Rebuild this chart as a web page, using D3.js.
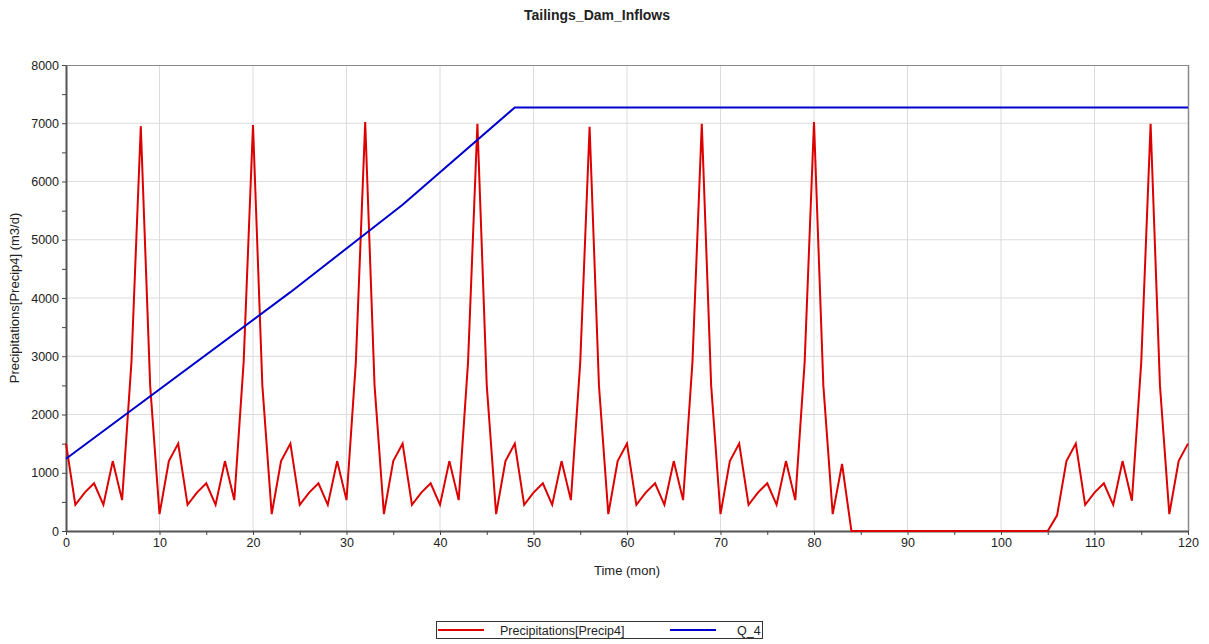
<!DOCTYPE html>
<html>
<head>
<meta charset="utf-8">
<script src="https://cdn.jsdelivr.net/npm/d3@7"></script>
<style>
  html, body { margin: 0; padding: 0; background: #fff; }
  svg { display: block; }
  text { font-family: "Liberation Sans", Arial, sans-serif; fill: #222; }
</style>
</head>
<body>
<svg id="chart" width="1209" height="644"></svg>
<script>
// ---- data ----
const months = d3.range(0, 121);
const precipValues = [
  1500, 450, 660, 820, 450, 1200, 530, 2900, 6950, 2500, 290, 1200,
  1500, 450, 660, 820, 450, 1200, 530, 2900, 6970, 2500, 290, 1200,
  1500, 450, 660, 820, 450, 1200, 530, 2900, 7020, 2500, 290, 1200,
  1500, 450, 660, 820, 450, 1200, 530, 2900, 6990, 2500, 290, 1200,
  1500, 450, 660, 820, 450, 1200, 530, 2900, 6940, 2500, 290, 1200,
  1500, 450, 660, 820, 450, 1200, 530, 2900, 6990, 2500, 290, 1200,
  1500, 450, 660, 820, 450, 1200, 530, 2900, 7020, 2500, 290, 1150,
  0, 0, 0, 0, 0, 0, 0, 0, 0, 0, 0, 0,
  0, 0, 0, 0, 0, 0, 0, 0, 0, 0, 270, 1200,
  1500, 450, 660, 820, 450, 1200, 520, 2900, 6990, 2500, 290, 1200,
  1500
];
const qTimes = [0, 24, 36, 48, 120];
const qValues = [1240, 4100, 5600, 7270, 7270];
const xTicks = [0, 10, 20, 30, 40, 50, 60, 70, 80, 90, 100, 110, 120];
const yTicks = [0, 1000, 2000, 3000, 4000, 5000, 6000, 7000, 8000];
const seriesNames = ["Precipitations[Precip4]", "Q_4"];
const seriesColors = ["#dd0000", "#0000cc"];
const titleText = "Tailings_Dam_Inflows";
const xTitle = "Time (mon)";
const yTitle = "Precipitations[Precip4] (m3/d)";

// ---- layout ----
const svg = d3.select("#chart");
const L = 66, R = 1188, T = 65, B = 531;
const x = d3.scaleLinear().domain([0, 120]).range([L, R]);
const y = d3.scaleLinear().domain([0, 8000]).range([B, T]);

// grid
svg.append("g").selectAll("line").data(xTicks.slice(1, -1)).enter().append("line")
  .attr("x1", d => x(d)).attr("x2", d => x(d)).attr("y1", T).attr("y2", B)
  .attr("stroke", "#dcdcdc").attr("stroke-width", 1);
svg.append("g").selectAll("line").data(yTicks.slice(1, -1)).enter().append("line")
  .attr("y1", d => y(d)).attr("y2", d => y(d)).attr("x1", L).attr("x2", R)
  .attr("stroke", "#dcdcdc").attr("stroke-width", 1);

// frame (top, right)
svg.append("line").attr("x1", L).attr("x2", R).attr("y1", T + 0.5).attr("y2", T + 0.5)
  .attr("stroke", "#8a8a8a").attr("stroke-width", 1);
svg.append("line").attr("x1", R + 0.5).attr("x2", R + 0.5).attr("y1", T).attr("y2", B)
  .attr("stroke", "#8a8a8a").attr("stroke-width", 1.5);

// axes
const xAxis = d3.axisBottom(x).tickValues(d3.range(0, 121, 5))
  .tickFormat(d => d % 10 === 0 ? d : "").tickSizeInner(4).tickSizeOuter(0).tickPadding(3);
const gx = svg.append("g").attr("transform", `translate(0,${B})`).call(xAxis);
const yAxis = d3.axisLeft(y).tickValues(d3.range(0, 8001, 500))
  .tickFormat(d => d % 1000 === 0 ? d : "").tickSizeInner(4).tickSizeOuter(0).tickPadding(3);
const gy = svg.append("g").attr("transform", `translate(${L},0)`).call(yAxis);
[gx, gy].forEach(g => {
  g.select(".domain").attr("stroke", "#555").attr("stroke-width", 2);
  g.selectAll(".tick line").attr("stroke", "#444");
  g.selectAll(".tick text").attr("font-size", 12.5).attr("fill", "#222")
    .attr("font-family", "Liberation Sans, Arial, sans-serif");
});

// lines
const line = d3.line().x(d => x(d[0])).y(d => y(d[1]));
svg.append("path")
  .datum(months.map((m, i) => [m, precipValues[i]]))
  .attr("d", line).attr("fill", "none")
  .attr("stroke", seriesColors[0]).attr("stroke-width", 2).attr("stroke-linejoin", "miter");
svg.append("path")
  .datum(qTimes.map((t, i) => [t, qValues[i]]))
  .attr("d", line).attr("fill", "none")
  .attr("stroke", seriesColors[1]).attr("stroke-width", 2);

// titles
svg.append("text").attr("x", 597).attr("y", 20).attr("text-anchor", "middle")
  .attr("font-size", 14).attr("font-weight", "bold").text(titleText);
svg.append("text").attr("x", (L + R) / 2).attr("y", 575).attr("text-anchor", "middle")
  .attr("font-size", 13).text(xTitle);
svg.append("text").attr("transform", `translate(19,${(T + B) / 2}) rotate(-90)`)
  .attr("text-anchor", "middle").attr("font-size", 13).text(yTitle);

// legend
const lg = svg.append("g");
lg.append("rect").attr("x", 436.5).attr("y", 621.5).attr("width", 326).attr("height", 17)
  .attr("fill", "#fff").attr("stroke", "#333").attr("stroke-width", 1);
const legendItems = [
  { x1: 438, x2: 484, tx: 500, i: 0 },
  { x1: 670, x2: 716, tx: 737, i: 1 }
];
legendItems.forEach(it => {
  lg.append("line").attr("x1", it.x1).attr("x2", it.x2).attr("y1", 630).attr("y2", 630)
    .attr("stroke", seriesColors[it.i]).attr("stroke-width", 2);
  lg.append("text").attr("x", it.tx).attr("y", 634.5).attr("font-size", 12.5)
    .text(seriesNames[it.i]);
});
</script>
</body>
</html>
